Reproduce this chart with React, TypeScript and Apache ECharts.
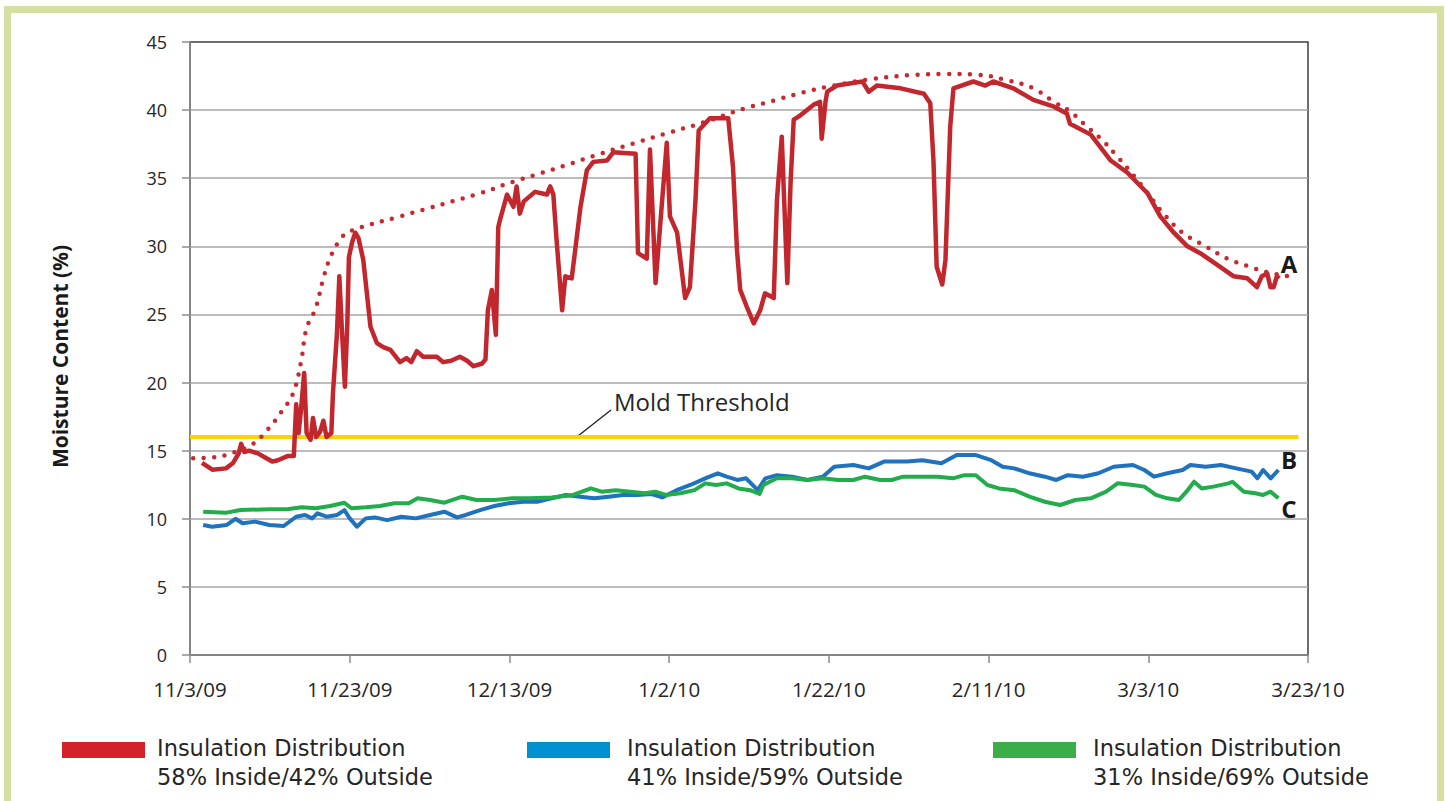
import React, { useEffect, useRef } from 'react';
import * as echarts from 'echarts';

// ---------- DATA ----------
const xTickLabels = ['11/3/09', '11/23/09', '12/13/09', '1/2/10', '1/22/10', '2/11/10', '3/3/10', '3/23/10'];

// Series A (58% inside / 42% outside) - days since 11/3/09
const daysA = [1.5, 2.8, 4.5, 5.4, 6.1, 6.4, 6.8, 7.4, 8.5, 9.4, 10.3, 11.0, 12.2, 13.0, 13.3, 13.6, 13.9, 14.3, 14.6, 15.1, 15.4, 15.8, 16.3, 16.7, 17.1, 17.7, 17.9, 18.4, 18.7, 19.0, 19.4, 19.7, 19.9, 20.3, 20.7, 21.1, 21.7, 22.6, 23.4, 24.2, 25.1, 26.3, 27.1, 27.7, 28.4, 29.2, 30.9, 31.7, 32.7, 33.8, 34.7, 35.5, 36.6, 37.0, 37.3, 37.8, 38.3, 38.6, 38.8, 39.7, 40.5, 40.9, 41.3, 41.8, 43.2, 44.7, 45.1, 45.5, 45.9, 46.6, 47.0, 47.8, 48.9, 49.7, 50.5, 52.2, 53.0, 55.8, 56.1, 57.2, 57.6, 58.3, 59.7, 60.1, 61.0, 62.0, 62.6, 63.3, 63.7, 65.1, 67.4, 68.0, 68.5, 68.9, 69.7, 70.6, 71.4, 72.0, 73.1, 73.5, 74.1, 74.8, 75.2, 75.6, 76.4, 78.1, 78.9, 79.1, 79.6, 79.8, 81.0, 84.2, 85.0, 86.0, 89.0, 91.9, 92.7, 93.1, 93.5, 94.2, 94.6, 95.2, 95.6, 98.1, 99.6, 100.6, 103.1, 105.6, 108.2, 109.8, 110.2, 112.8, 115.3, 117.4, 119.9, 121.5, 123.2, 124.9, 126.5, 129.0, 130.7, 132.4, 133.6, 134.2, 134.9, 135.3, 135.7, 136.1, 136.4];
const moistureA = [14.1, 13.6, 13.7, 14.1, 14.8, 15.5, 14.9, 15.0, 14.8, 14.5, 14.2, 14.3, 14.6, 14.6, 18.4, 16.3, 18.0, 20.7, 16.3, 15.8, 17.4, 16.0, 16.4, 17.2, 16.0, 16.3, 19.2, 23.6, 27.8, 24.1, 19.7, 24.3, 29.2, 30.3, 31.0, 30.6, 29.0, 24.1, 22.9, 22.6, 22.4, 21.5, 21.8, 21.5, 22.3, 21.9, 21.9, 21.5, 21.6, 21.9, 21.6, 21.2, 21.4, 21.7, 25.3, 26.8, 23.5, 31.4, 31.9, 33.8, 32.9, 34.4, 32.4, 33.3, 34.0, 33.8, 34.4, 33.8, 30.5, 25.3, 27.8, 27.65, 32.9, 35.6, 36.2, 36.3, 36.9, 36.8, 29.5, 29.1, 37.1, 27.3, 37.6, 32.2, 31.0, 26.2, 27.0, 33.4, 38.5, 39.4, 39.4, 35.8, 29.7, 26.8, 25.6, 24.35, 25.3, 26.55, 26.2, 33.4, 38.05, 27.3, 34.6, 39.3, 39.6, 40.4, 40.6, 37.9, 40.7, 41.35, 41.8, 42.1, 41.35, 41.8, 41.6, 41.2, 40.5, 36.3, 28.5, 27.2, 29.0, 38.8, 41.6, 42.1, 41.8, 42.1, 41.6, 40.75, 40.25, 39.75, 39.0, 38.2, 36.3, 35.4, 33.9, 32.2, 31.0, 30.0, 29.5, 28.5, 27.8, 27.65, 27.0, 27.8, 28.0, 27.0, 27.0, 27.8, 27.65];

// Trend (dotted) for series A
const trendDaysA = [0.4, 2.9, 5.6, 7.9, 9.8, 11.5, 12.9, 13.9, 14.6, 15.7, 16.7, 17.5, 18.8, 20.0, 26.3, 36.3, 40.5, 44.1, 47.8, 51.4, 55.5, 60.3, 64.3, 69.3, 73.1, 76.8, 80.6, 85.6, 91.0, 94.6, 98.6, 102.3, 105.6, 108.2, 110.2, 112.3, 114.4, 116.1, 118.6, 120.3, 121.9, 124.4, 126.9, 129.9, 132.4, 134.9, 137.6];
const trendA = [14.44, 14.5, 14.9, 15.5, 16.6, 17.9, 19.2, 21.5, 24.0, 25.4, 27.65, 29.1, 30.5, 31.1, 32.2, 33.9, 34.75, 35.4, 36.1, 36.8, 37.55, 38.4, 39.1, 40.1, 40.7, 41.3, 41.8, 42.3, 42.6, 42.65, 42.6, 42.2, 41.6, 40.6, 39.9, 38.8, 37.7, 36.6, 34.9, 33.6, 32.4, 30.95, 30.1, 29.1, 28.56, 28.1, 27.8];

// Series B (41% inside / 59% outside)
const daysB = [1.65, 2.77, 4.56, 5.69, 6.58, 8.14, 9.93, 11.73, 13.29, 14.41, 15.3, 15.97, 17.09, 18.43, 19.33, 20.0, 20.9, 22.01, 23.13, 24.69, 26.48, 28.28, 30.07, 31.86, 33.43, 34.54, 36.33, 38.12, 39.91, 41.71, 43.49, 45.28, 47.07, 48.86, 50.65, 52.44, 54.23, 56.01, 57.8, 59.14, 60.94, 62.73, 64.52, 66.09, 67.2, 68.54, 69.64, 71.09, 72.05, 73.48, 75.39, 77.32, 79.24, 80.67, 83.07, 84.99, 86.91, 89.79, 91.71, 94.1, 96.02, 98.41, 100.34, 101.77, 103.21, 105.12, 107.04, 108.48, 109.92, 111.84, 113.76, 115.67, 118.08, 119.51, 120.71, 122.39, 124.3, 125.27, 127.19, 129.1, 131.02, 132.94, 133.65, 134.38, 135.33, 136.29];
const moistureB = [9.54, 9.42, 9.54, 10.0, 9.67, 9.79, 9.54, 9.47, 10.15, 10.28, 10.03, 10.4, 10.15, 10.28, 10.64, 10.03, 9.42, 10.03, 10.1, 9.9, 10.15, 10.03, 10.28, 10.52, 10.1, 10.28, 10.64, 10.94, 11.14, 11.25, 11.25, 11.5, 11.75, 11.62, 11.5, 11.62, 11.75, 11.75, 11.82, 11.57, 12.1, 12.5, 12.97, 13.34, 13.09, 12.85, 12.97, 12.1, 12.97, 13.2, 13.09, 12.85, 13.09, 13.82, 13.95, 13.7, 14.2, 14.2, 14.3, 14.07, 14.68, 14.68, 14.3, 13.82, 13.7, 13.34, 13.09, 12.85, 13.2, 13.09, 13.34, 13.82, 13.95, 13.58, 13.09, 13.34, 13.58, 13.95, 13.82, 13.95, 13.7, 13.46, 12.97, 13.58, 12.97, 13.58];

// Series C (31% inside / 69% outside)
const daysC = [1.65, 4.56, 6.35, 9.93, 12.16, 13.96, 15.75, 17.54, 19.33, 20.22, 22.01, 23.8, 25.6, 27.39, 28.5, 30.07, 31.86, 34.09, 35.88, 38.12, 40.35, 42.6, 45.28, 47.97, 50.2, 51.54, 53.33, 55.12, 56.92, 58.26, 59.6, 61.39, 63.18, 64.52, 65.86, 67.2, 68.69, 70.13, 71.32, 71.8, 73.48, 75.39, 77.32, 79.24, 81.16, 83.07, 84.52, 86.43, 87.87, 89.3, 91.22, 93.62, 95.54, 96.98, 98.41, 99.85, 101.29, 103.21, 105.12, 107.04, 108.96, 110.87, 112.8, 114.72, 116.15, 118.08, 119.51, 120.95, 122.39, 123.83, 124.78, 125.74, 126.7, 128.14, 130.05, 130.54, 131.97, 133.41, 134.38, 135.33, 136.29];
const moistureC = [10.52, 10.45, 10.64, 10.7, 10.7, 10.84, 10.77, 10.94, 11.18, 10.77, 10.84, 10.94, 11.14, 11.14, 11.5, 11.38, 11.18, 11.62, 11.38, 11.38, 11.5, 11.5, 11.57, 11.75, 12.23, 11.99, 12.1, 11.99, 11.87, 11.99, 11.75, 11.87, 12.1, 12.6, 12.48, 12.6, 12.23, 12.1, 11.82, 12.48, 12.97, 12.97, 12.85, 12.97, 12.85, 12.85, 13.09, 12.85, 12.85, 13.09, 13.09, 13.09, 12.97, 13.2, 13.2, 12.48, 12.23, 12.1, 11.62, 11.25, 11.01, 11.38, 11.5, 11.99, 12.6, 12.48, 12.36, 11.75, 11.5, 11.38, 11.99, 12.72, 12.23, 12.36, 12.6, 12.72, 11.99, 11.87, 11.75, 11.99, 11.5];

// Mold threshold
const thresholdDays = [0, 138.8];
const thresholdValue = 16;

const legendLine1 = ['Insulation Distribution', 'Insulation Distribution', 'Insulation Distribution'];
const legendLine2 = ['58% Inside/42% Outside', '41% Inside/59% Outside', '31% Inside/69% Outside'];
const curveLabels = ['A', 'B', 'C'];
const yAxisTitle = 'Moisture Content (%)';
const thresholdLabel = 'Mold Threshold';

const zip = (xs: number[], ys: number[]) => xs.map((x, i) => [x, ys[i]]);

// ---------- STYLE ----------
const FONT = '"Open Sans", "DejaVu Sans", sans-serif';
const LEGEND_FONT = '"DejaVu Sans", "Open Sans", sans-serif';
const lineColors = ['#c1272d', '#1f72bd', '#22ac4c'];
const swatchColors = ['#d2232a', '#0091d0', '#3cae49'];
const axisGray = '#8c8c8c';
const textDark = '#262626';

export default function App() {
  const ref = useRef<HTMLDivElement>(null);

  useEffect(() => {
    document.body.style.margin = '0';
    const chart = echarts.init(ref.current!, null, { renderer: 'svg' });

    const legendX = [{ sx: 62, tx: 157 }, { sx: 527, tx: 627 }, { sx: 993, tx: 1093 }];
    const legendGraphics: any[] = [];
    legendLine1.forEach((l1, i) => {
      legendGraphics.push({
        type: 'rect',
        shape: { x: legendX[i].sx, y: 742, width: 83, height: 16 },
        style: { fill: swatchColors[i] },
        silent: true,
      });
      legendGraphics.push({
        type: 'text',
        x: legendX[i].tx,
        y: 748,
        style: { text: l1, fontSize: 22.5, fontFamily: LEGEND_FONT, fill: textDark, verticalAlign: 'middle', align: 'left' },
        silent: true,
      });
      legendGraphics.push({
        type: 'text',
        x: legendX[i].tx,
        y: 776.5,
        style: { text: legendLine2[i], fontSize: 22.5, fontFamily: LEGEND_FONT, fill: textDark, verticalAlign: 'middle', align: 'left' },
        silent: true,
      });
    });

    const labelPos = [
      { x: 1289, y: 263 },
      { x: 1289, y: 459 },
      { x: 1289, y: 508 },
    ];

    const option: any = {
      animation: false,
      backgroundColor: '#ffffff',
      grid: {
        left: 190,
        right: 137,
        top: 42,
        bottom: 146,
        show: true,
        borderColor: '#3f3f3f',
        borderWidth: 1.5,
        backgroundColor: 'transparent',
      },
      xAxis: {
        type: 'value',
        min: 0,
        max: 140,
        interval: 20,
        axisLine: { show: true, lineStyle: { color: axisGray, width: 1.5 } },
        axisTick: { show: true, length: 8, lineStyle: { color: axisGray, width: 1.5 } },
        splitLine: { show: false },
        axisLabel: {
          formatter: (v: number) => xTickLabels[Math.round(v / 20)] ?? '',
          margin: 23,
          fontSize: 20.5,
          fontFamily: FONT,
          color: textDark,
          showMinLabel: true,
          showMaxLabel: true,
        },
      },
      yAxis: {
        type: 'value',
        min: 0,
        max: 45,
        interval: 5,
        name: yAxisTitle,
        nameLocation: 'middle',
        nameGap: 120,
        nameTextStyle: { fontSize: 21, fontWeight: 'bold', fontFamily: FONT, color: '#1a1a1a', padding: [0, 16, 0, 0] },
        axisLine: { show: true, lineStyle: { color: axisGray, width: 1.5 } },
        axisTick: { show: true, length: 8, lineStyle: { color: axisGray, width: 1.5 } },
        splitLine: { show: true, showMaxLine: false, showMinLine: false, lineStyle: { color: '#a6a6a6', width: 1.5 } },
        axisLabel: { margin: 23, fontSize: 18, fontFamily: FONT, color: textDark },
      },
      series: [
        {
          name: legendLine2[1],
          type: 'line',
          data: zip(daysB, moistureB),
          showSymbol: false,
          lineStyle: { color: lineColors[1], width: 4, join: 'round' },
          itemStyle: { color: lineColors[1] },
          z: 2,
        },
        {
          name: legendLine2[2],
          type: 'line',
          data: zip(daysC, moistureC),
          showSymbol: false,
          lineStyle: { color: lineColors[2], width: 4, join: 'round' },
          itemStyle: { color: lineColors[2] },
          z: 3,
        },
        {
          name: thresholdLabel,
          type: 'line',
          data: thresholdDays.map((d) => [d, thresholdValue]),
          showSymbol: false,
          lineStyle: { color: '#ffd200', width: 4 },
          itemStyle: { color: '#ffd200' },
          z: 4,
        },
        {
          name: legendLine2[0],
          type: 'line',
          data: zip(daysA, moistureA),
          showSymbol: false,
          lineStyle: { color: lineColors[0], width: 4.5, join: 'round' },
          itemStyle: { color: lineColors[0] },
          z: 5,
        },
        {
          name: 'Trend A',
          type: 'line',
          data: zip(trendDaysA, trendA),
          smooth: 0.4,
          showSymbol: false,
          lineStyle: { color: '#c8282e', width: 4.5, type: [0, 10.5], cap: 'round' },
          itemStyle: { color: '#c8282e' },
          z: 6,
        },
      ],
      graphic: [
        {
          type: 'rect',
          shape: { x: 7.5, y: 9.5, width: 1433, height: 830 },
          style: { fill: 'none', stroke: '#d6e0a2', lineWidth: 7 },
          silent: true,
        },
        {
          type: 'line',
          shape: { x1: 578, y1: 436, x2: 611, y2: 410 },
          style: { stroke: '#1a1a1a', lineWidth: 1.2 },
          silent: true,
        },
        {
          type: 'text',
          x: 614,
          y: 401,
          style: { text: thresholdLabel, fontSize: 24, fontFamily: FONT, fill: textDark, verticalAlign: 'middle', align: 'left' },
          silent: true,
        },
        ...curveLabels.map((t, i) => ({
          type: 'text',
          x: labelPos[i].x,
          y: labelPos[i].y,
          style: { text: t, fontSize: 24, fontWeight: 'bold', fontFamily: FONT, fill: '#1a1a1a', verticalAlign: 'middle', align: 'center' },
          silent: true,
        })),
        ...legendGraphics,
      ],
    };

    chart.setOption(option);
    return () => chart.dispose();
  }, []);

  return <div ref={ref} style={{ width: 1445, height: 801 }} />;
}
